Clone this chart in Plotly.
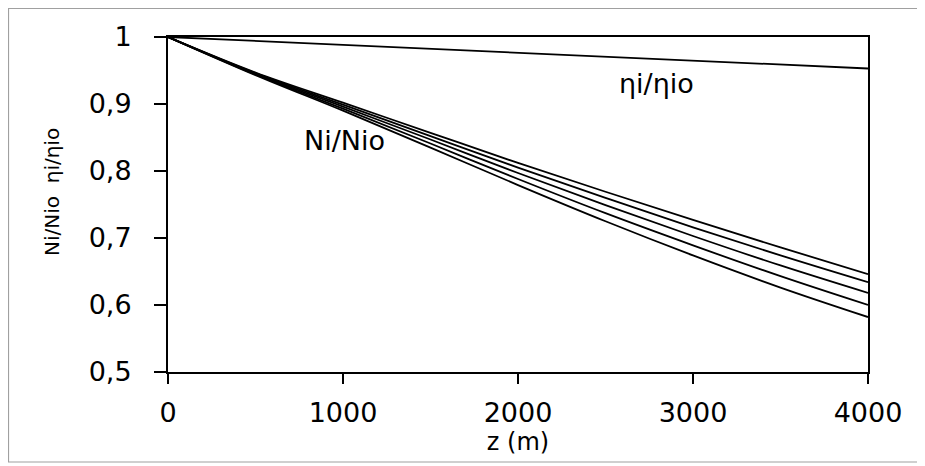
import plotly.graph_objects as go

# ---- data ----
z = [0, 500, 1000, 1500, 2000, 2500, 3000, 3500, 4000]
ni_1 = [1.0, 0.947, 0.902, 0.857, 0.812, 0.769, 0.727, 0.686, 0.646]
ni_2 = [1.0, 0.946, 0.899, 0.852, 0.805, 0.760, 0.716, 0.674, 0.634]
ni_3 = [1.0, 0.945, 0.896, 0.847, 0.797, 0.749, 0.703, 0.659, 0.618]
ni_4 = [1.0, 0.944, 0.893, 0.841, 0.788, 0.737, 0.689, 0.643, 0.600]
ni_5 = [1.0, 0.943, 0.890, 0.835, 0.779, 0.725, 0.674, 0.626, 0.582]
eta_z = [0, 1000, 2000, 3000, 4000]
eta = [1.0, 0.988, 0.976, 0.965, 0.953]

y_tickvals = [0.5, 0.6, 0.7, 0.8, 0.9, 1.0]
y_ticktext = ["0,5", "0,6", "0,7", "0,8", "0,9", "1"]
x_tickvals = [0, 1000, 2000, 3000, 4000]
x_ticktext = ["0", "1000", "2000", "3000", "4000"]

FONT = "DejaVu Sans, Verdana, sans-serif"

fig = go.Figure()
for s in [ni_1, ni_2, ni_3, ni_4, ni_5]:
    fig.add_trace(go.Scatter(x=z, y=s, mode="lines", line=dict(color="black", width=1.8),
                             line_shape="spline", showlegend=False, hoverinfo="skip"))
fig.add_trace(go.Scatter(x=eta_z, y=eta, mode="lines", line=dict(color="black", width=1.8),
                         showlegend=False, hoverinfo="skip"))

# page body has an 8px margin, so the figure is 8px smaller than the window
W, H = 917, 458
L, T = 160, 29
R, B = W - 860, H - 364
pw, ph = W - L - R, H - T - B

def px(xp):
    return (xp - L) / pw

def py(yp):
    return (H - B - yp) / ph

fig.add_shape(type="rect", xref="paper", yref="paper",
              x0=px(0.5), x1=px(911), y0=py(454), y1=py(0.5),
              line=dict(color="#a0a0a0", width=1.2), layer="below")

fig.add_annotation(x=1011, y=0.846, xref="x", yref="y", text="Ni/Nio",
                   showarrow=False, font=dict(family=FONT, size=27, color="black"))
fig.add_annotation(x=2794, y=0.931, xref="x", yref="y", text="ηi/ηio",
                   showarrow=False, font=dict(family=FONT, size=27, color="black"))
fig.add_annotation(x=px(44), y=py(184), xref="paper", yref="paper",
                   xanchor="center", yanchor="middle",
                   text="Ni/Nio  ηi/ηio", textangle=-90,
                   showarrow=False, font=dict(family=FONT, size=20, color="black"))

fig.update_layout(
    width=W, height=H,
    margin=dict(l=L, r=R, t=T, b=B, pad=0),
    paper_bgcolor="white", plot_bgcolor="white",
    font=dict(family=FONT, size=27, color="black"),
    xaxis=dict(range=[0, 4000], tickvals=x_tickvals, ticktext=x_ticktext,
               showgrid=False, zeroline=False, showline=True, linecolor="black", linewidth=2,
               mirror=True, ticks="outside", ticklen=10, tickwidth=2, tickcolor="black",
               ticklabelstandoff=6,
               title=dict(text="z (m)", font=dict(size=24), standoff=2)),
    yaxis=dict(range=[0.5, 1.0], tickvals=y_tickvals, ticktext=y_ticktext,
               showgrid=False, zeroline=False, showline=True, linecolor="black", linewidth=2,
               mirror=True, ticks="outside", ticklen=12, tickwidth=2, tickcolor="black",
               ticklabelstandoff=17),
)

fig.write_html("out.html")
